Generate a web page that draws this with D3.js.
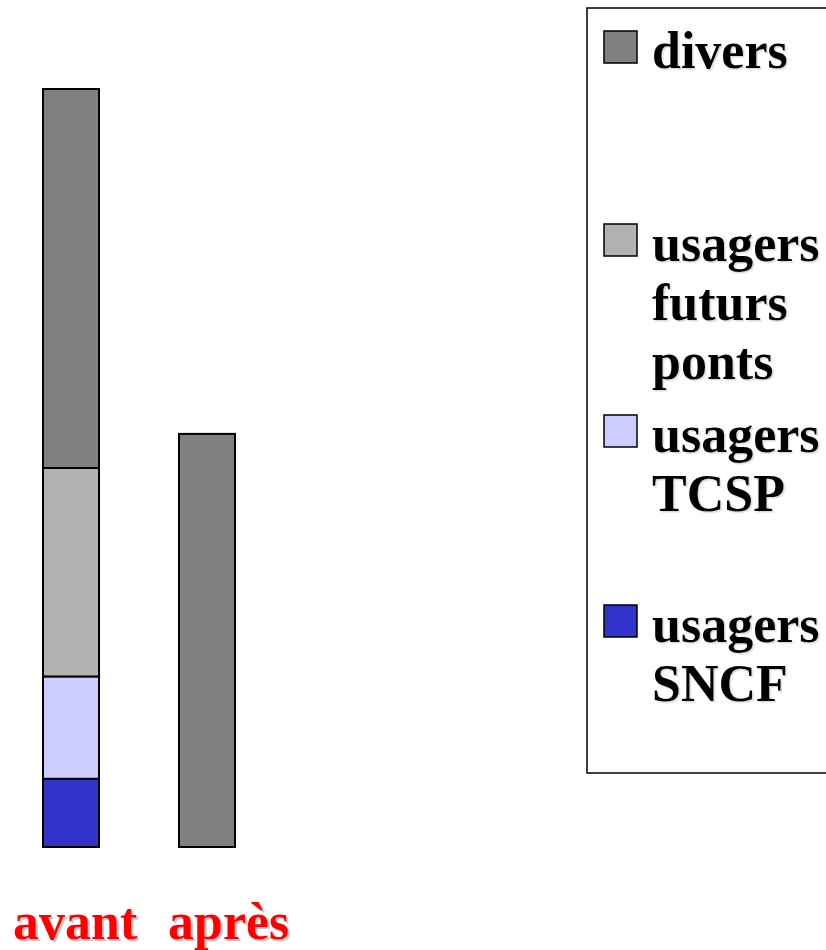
<!DOCTYPE html>
<html>
<head>
<meta charset="utf-8">
<script src="https://cdn.jsdelivr.net/npm/d3@7"></script>
<style>
  body { margin: 0; background: #fff; }
  svg { display: block; }
  text { font-family: "Liberation Serif", "Times New Roman", serif; font-weight: bold; }
</style>
</head>
<body>
<svg id="chart" width="826" height="950"></svg>
<script>
// categories and series (stack order bottom -> top)
var categories = ["avant", "après"];
var seriesKeys = ["sncf", "tcsp", "ponts", "divers"];
var sncf   = [9, 0];
var tcsp   = [13.5, 0];
var ponts  = [27.5, 0];
var divers = [50, 54.5];

var colors = {
    divers: "#808080",
    ponts: "#b2b2b2",
    tcsp: "#ccccff",
    sncf: "#3333cc"
};

// legend entries, top -> bottom, each with its text lines
var legendKeys = ["divers", "ponts", "tcsp", "sncf"];
var legendLines = [
    ["divers"],
    ["usagers", "futurs", "ponts"],
    ["usagers", "TCSP"],
    ["usagers", "SNCF"]
];

var rows = categories.map(function(c, i) {
    return { cat: c, sncf: sncf[i], tcsp: tcsp[i], ponts: ponts[i], divers: divers[i] };
});

var svg = d3.select("#chart");

// soft text shadows
var defs = svg.append("defs");
defs.append("filter").attr("id", "shadowRed")
    .append("feDropShadow")
    .attr("dx", 2).attr("dy", 2).attr("stdDeviation", 0.6)
    .attr("flood-color", "#999").attr("flood-opacity", 0.55);
defs.append("filter").attr("id", "shadowBlack")
    .append("feDropShadow")
    .attr("dx", 1.5).attr("dy", 1.5).attr("stdDeviation", 0.5)
    .attr("flood-color", "#999").attr("flood-opacity", 0.35);

var x = d3.scaleBand()
    .domain(categories)
    .range([43, 235])
    .paddingInner(0.588)
    .paddingOuter(0);

var y = d3.scaleLinear()
    .domain([0, 100])
    .range([847, 89]);

var stack = d3.stack().keys(seriesKeys);
var layers = stack(rows);

svg.selectAll(".layer")
    .data(layers)
    .enter()
    .append("g")
    .attr("class", "layer")
    .attr("fill", function(d) { return colors[d.key]; })
    .selectAll("rect")
    .data(function(d) { return d.filter(function(p) { return p[1] - p[0] > 0; }); })
    .enter()
    .append("rect")
    .attr("x", function(d) { return x(d.data.cat); })
    .attr("y", function(d) { return y(d[1]); })
    .attr("width", x.bandwidth())
    .attr("height", function(d) { return y(d[0]) - y(d[1]); })
    .attr("stroke", "#000")
    .attr("stroke-width", 2);

// category labels (red), set as one line under the bars
var labelX = [x(categories[0]) - 30, x(categories[1]) - 11];
svg.append("g")
    .attr("filter", "url(#shadowRed)")
    .selectAll("text")
    .data(categories)
    .enter()
    .append("text")
    .attr("x", function(d, i) { return labelX[i]; })
    .attr("y", 939)
    .attr("font-size", 52)
    .attr("fill", "#ff0000")
    .text(function(d) { return d; });

// legend
var legend = svg.append("g");
legend.append("rect")
    .attr("x", 587)
    .attr("y", 8)
    .attr("width", 260)
    .attr("height", 765)
    .attr("fill", "none")
    .attr("stroke", "#000")
    .attr("stroke-width", 1.5);

var legendBase = [68, 261, 452, 642];
var lineStep = 59;

var items = legend.selectAll(".item")
    .data(legendKeys)
    .enter()
    .append("g")
    .attr("class", "item")
    .attr("transform", function(d, i) { return "translate(0," + legendBase[i] + ")"; });

items.append("rect")
    .attr("x", 604)
    .attr("y", -37)
    .attr("width", 33)
    .attr("height", 32)
    .attr("fill", function(d) { return colors[d]; })
    .attr("stroke", "#000")
    .attr("stroke-width", 1.5);

items.each(function(d, i) {
    d3.select(this).append("g")
        .attr("filter", "url(#shadowBlack)")
        .selectAll("text")
        .data(legendLines[i])
        .enter()
        .append("text")
        .attr("x", 652)
        .attr("y", function(t, j) { return j * lineStep; })
        .attr("font-size", 52)
        .attr("fill", "#000")
        .text(function(t) { return t; });
});
</script>
</body>
</html>
